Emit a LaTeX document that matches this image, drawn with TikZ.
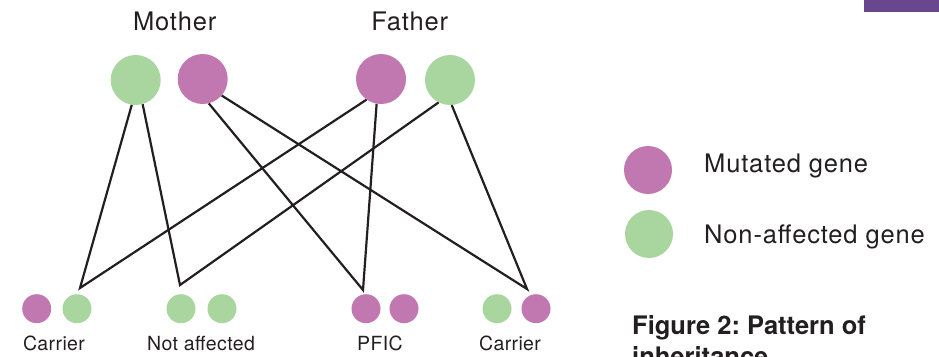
\documentclass[tikz,border=0pt]{standalone}
\usepackage{fontspec}
\setmainfont{TeX Gyre Heros}
\frenchspacing
\definecolor{mut}{HTML}{C178B0}
\definecolor{non}{HTML}{A9D59E}
\definecolor{ink}{HTML}{231F20}
\definecolor{barc}{HTML}{69478D}
\begin{document}
\begin{tikzpicture}[x=1pt,y=-1pt,
  gene/.style={circle, inner sep=0pt, minimum size=50pt},
  small/.style={circle, inner sep=0pt, minimum size=29pt},
  mutf/.style={fill=mut},
  nonf/.style={fill=non},
  link/.style={draw=ink, line width=2.2pt, line join=miter},
  big/.style={text=ink, font=\fontsize{25.5}{30}\selectfont\addfontfeature{LetterSpace=3.3}, anchor=base, inner sep=0pt},
  lab/.style={text=ink, font=\fontsize{19.5}{23}\selectfont\addfontfeature{LetterSpace=2}, anchor=base, inner sep=0pt},
  captxt/.style={text=ink, font=\fontsize{25.5}{30}\selectfont\bfseries, anchor=base west, inner sep=0pt}]
\useasboundingbox (0,0) rectangle (939,356);
\clip (0,0) rectangle (939,356);
% top-right bar
\node[fill=barc, inner sep=0pt, minimum width=75pt, minimum height=12pt, anchor=north west] (bar) at (864,0) {};
% parents
\node[big] (mother) at (174.7,30) {Mother};
\node[big] (father) at (409.7,30) {Father};
\node[gene, nonf] (mg) at (135.7,80) {};
\node[gene, mutf] (mp) at (202.7,79) {};
\node[gene, mutf] (fp) at (381,79) {};
\node[gene, nonf] (fg) at (450,80) {};
% apex points
\coordinate (c1) at (80,288);
\coordinate (c2) at (180,285);
\coordinate (c3) at (363,290);
\coordinate (c4) at (527,289);
% connectors
\draw[link] (mg.-99) -- (c1) -- (fp.-125);
\draw[link] (mg.-74) -- (c2) -- (fg.-117);
\draw[link] (mp.-76) -- (c3) -- (fp.-100);
\draw[link] (mp.-41) -- (c4) -- (fg.-86);
% children
\node[small, mutf] (k1a) at (36.7,308.7) {};
\node[small, nonf] (k1b) at (77,308.7) {};
\node[small, nonf] (k2a) at (181,308.7) {};
\node[small, nonf] (k2b) at (222,308.7) {};
\node[small, mutf] (k3a) at (366,308.7) {};
\node[small, mutf] (k3b) at (404,308.7) {};
\node[small, nonf] (k4a) at (497,308.7) {};
\node[small, mutf] (k4b) at (536,308.7) {};
\node[lab] (l1) at (54,350.3) {Carrier};
\node[lab] (l2) at (201,350.3) {Not affected};
\node[lab] (l3) at (380,350.3) {PFIC};
\node[lab] (l4) at (510,350.3) {Carrier};
% legend
\node[gene, minimum size=48pt, mutf] (legm) at (648,170) {};
\node[gene, minimum size=48pt, nonf] (legn) at (649,234) {};
\node[big, anchor=base west] (tm) at (704,172.3) {Mutated gene};
\node[big, anchor=base west] (tn) at (704,243.5) {Non-affected gene};
% caption
\node[captxt] (cap1) at (632,334) {Figure 2: Pattern of};
\node[captxt] (cap2) at (632,365) {inheritance};
\end{tikzpicture}
\end{document}
